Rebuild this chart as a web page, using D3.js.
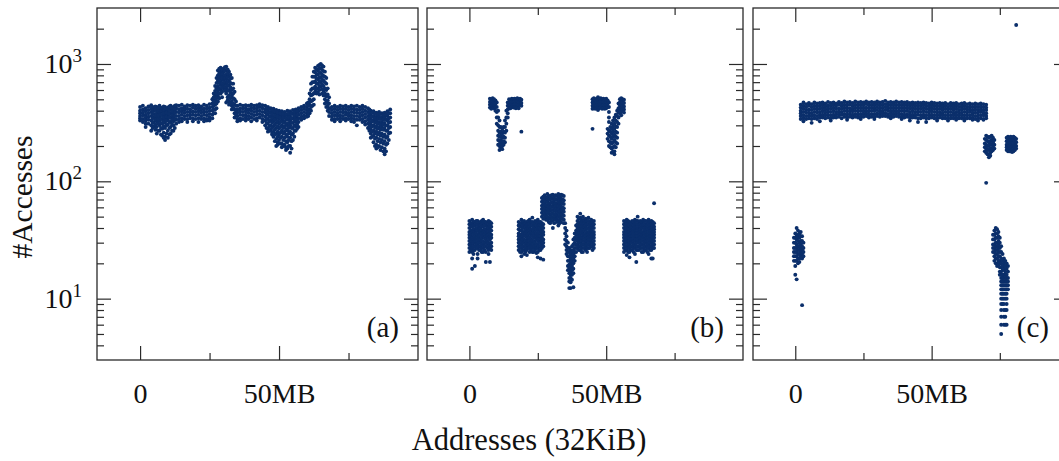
<!DOCTYPE html>
<html><head><meta charset="utf-8">
<script src="https://cdn.jsdelivr.net/npm/d3@7/dist/d3.min.js"></script>
<style>body{margin:0;background:#fff}svg{display:block}text{font-family:"Liberation Serif","DejaVu Serif",serif;fill:#111}</style>
</head><body><svg id="c" width="1059" height="461"></svg>
<script>
// ---- data: [address MB, [#accesses ...]] ----
const panelA = [
[0,[430,400,380,360,345,330]],[1,[440,410,385,365,340,320]],[2,[420,395,370,350,330,310,290]],
[3,[435,405,380,355,335,310]],[4,[445,415,390,360,330,300,270]],[5,[425,400,375,350,320,295]],
[6,[430,405,380,350,325,290,255]],[7,[440,410,385,355,330,300,270]],[8,[420,395,365,340,310,280,245]],
[9,[430,400,370,345,315,285,240,225]],[10,[425,395,365,335,305,270,235]],[11,[440,410,380,350,320,290,255]],
[12,[430,405,375,350,325,300,270]],[13,[445,420,390,360,335,310]],[14,[440,410,385,360,340,320]],
[15,[450,420,395,370,345,325]],[16,[435,410,385,360,340]],[17,[445,415,390,365,340,320]],
[18,[440,410,385,365,345]],[19,[450,425,395,370,345,325]],[20,[440,415,390,365,340]],
[21,[445,420,395,370,345,320]],[22,[435,410,385,360,340]],[23,[450,420,395,370,345,325]],
[24,[440,415,390,365,340,330]],[25,[455,425,400,375,350,330]],[26,[500,460,430,400,370,345]],
[27,[650,590,540,490,450,410,380]],[28,[880,800,720,650,590,530,480]],[29,[930,860,790,720,660,600,560]],
[30,[910,850,790,730,670,620]],[31,[950,880,810,740,680,620,560,470]],[32,[860,790,720,660,600,540,480,450]],
[33,[760,680,600,540,480,440,410]],[34,[580,500,450,410,380,350]],[35,[440,410,385,360,340,325]],
[36,[450,420,395,370,345,330]],[37,[440,415,390,365,340]],[38,[445,420,395,370,350,330]],
[39,[440,410,385,360,340]],[40,[450,425,400,375,350,325]],[41,[440,415,390,365,340]],
[42,[445,420,395,370,345,330]],[43,[455,430,400,375,350]],[44,[445,420,390,365,340,320]],
[45,[440,410,385,355,330,300]],[46,[430,400,370,340,310,280,265]],[47,[420,390,360,330,300,275]],
[48,[415,385,355,325,295,265,240]],[49,[405,375,345,315,285,255,230,200]],[50,[400,370,340,310,280,250,225]],
[51,[395,365,330,300,270,240,210,195]],[52,[390,360,325,295,265,235,205]],[53,[400,365,335,300,270,240,215,190]],
[54,[395,360,330,300,265,235,200,175]],[55,[405,375,345,315,285,255,225]],[56,[410,380,350,320,295,270]],
[57,[420,395,370,345,320,290]],[58,[430,405,380,355,335]],[59,[440,415,390,365,345]],
[60,[460,430,405,380,355]],[61,[560,500,450,410,380]],[62,[780,700,620,550,490,440]],
[63,[930,850,780,710,640,580]],[64,[960,880,810,740,680,620,570]],[65,[1000,920,840,770,700,640]],
[66,[950,870,790,720,650,590,540]],[67,[760,680,600,530,470,430]],[68,[520,460,420,390,360]],
[69,[430,405,380,355,335]],[70,[440,415,390,365,340,325]],[71,[430,405,380,360,340]],
[72,[440,415,390,365,345,325]],[73,[435,410,385,360,340]],[74,[440,415,390,370,345,330]],
[75,[430,405,380,360,340]],[76,[440,415,390,365,345,325]],[77,[435,410,385,360,340,320]],
[78,[440,410,385,360,335,300]],[79,[430,405,380,355,335]],[80,[440,415,390,365,340,320]],
[81,[430,400,375,350,325,305]],[82,[420,390,360,335,310,285]],[83,[400,370,340,310,280,255,235]],
[84,[395,360,330,300,270,245,215]],[85,[385,355,325,295,265,235,205,190]],[86,[390,355,320,290,260,230,200]],
[87,[380,350,320,290,255,225,195]],[88,[385,350,315,285,250,220,190,170]],[89,[395,360,330,300,270,240,210]],
[90,[410,380,350,320,290,260]],
[4.5,[430,400,375,345,315,285]],[5.5,[435,405,360,335,305,275]],[6.5,[420,395,365,340,310,270]],
[7.5,[425,395,370,340,315,285,250]],[8.5,[435,405,380,350,325,295,260,235]],[9.5,[415,385,355,330,300,255]],
[10.5,[435,405,375,350,320,285,250]],[11.5,[425,395,365,335,305,270]],[12.5,[440,410,385,360,335,285]],
[26.5,[560,520,480,440,410,380]],[27.5,[760,690,620,560,510,460,420]],[28.5,[910,830,760,690,620,560,510]],
[29.5,[890,820,755,690,630,580,520]],[30.5,[940,870,800,760,700,640,590]],[31.5,[900,830,770,700,650,590,520,490]],
[32.5,[810,750,690,630,570,510,460]],[33.5,[680,620,560,510,460,425]],[34.5,[480,440,400,370]],
[45.5,[425,395,370,340,315,285]],[46.5,[415,385,355,325,295,270]],[47.5,[405,375,345,315,285,260,250]],
[48.5,[395,365,335,305,275,250,220]],[49.5,[385,355,325,295,265,240,215,205]],[50.5,[380,350,320,290,260,235,210]],
[51.5,[375,345,315,285,255,225,200]],[52.5,[375,345,310,280,250,220,195,185]],[53.5,[380,350,315,285,255,225,200]],
[54.5,[380,345,315,285,250,220,190]],[55.5,[390,360,330,300,270,240]],[56.5,[395,365,335,305,280]],
[60.5,[470,440,410,385,360]],[61.5,[680,600,540,480,430,400]],[62.5,[860,780,700,620,560,500,450]],
[63.5,[900,820,750,680,610,560]],[64.5,[980,910,840,770,710,650,600,550]],[65.5,[970,890,810,740,670,610,560]],
[66.5,[860,780,700,620,560,500,460]],[67.5,[620,550,490,440,400]],
[82.5,[410,380,350,320,295,270]],[83.5,[385,355,325,295,265,240]],[84.5,[380,345,315,285,255,230,200]],
[85.5,[370,340,310,280,250,220,195]],[86.5,[375,340,305,275,245,215,185]],[87.5,[365,335,305,275,240,210,180]],
[88.5,[370,335,300,270,235,205,180]],[89.5,[380,345,315,285,255,225]]
];
const panelB = [
// upper V clusters
[7.5,[505,475,450,425]],[8,[495,465,440,415]],[8.5,[510,480,455,430]],[9,[500,470,445,420]],
[9.5,[490,460,430,400]],[10,[470,430,390,350,310]],[10.5,[400,350,300,270,245,225,205]],
[11,[330,290,260,240,220,200,185]],[11.5,[290,265,245,225,210,195]],[12,[280,255,235,215,200,188]],
[12.5,[290,265,240,220,205]],[13,[330,290,260,235,215]],[13.5,[400,350,310,270]],
[14,[470,440,410,380,350]],[14.5,[500,470,445,420]],[15,[495,470,445,420]],[15.5,[505,480,455,430]],
[16,[500,470,445,425]],[16.5,[505,475,450,425]],[17,[500,470,445,420]],[17.5,[510,480,455,430]],
[18,[500,470,445,420]],[18.5,[505,475,450]],[19,[495,465,440,265]],
[45,[500,470,440,415,280]],[45.5,[510,480,450,420]],[46,[495,465,440,415]],[46.5,[505,475,445,420]],
[47,[520,490,460,430,405]],[47.5,[500,470,445,420]],[48,[510,480,450,425]],[48.5,[500,470,440,415]],
[49,[505,475,445,420]],[49.5,[495,465,440,415]],[50,[505,475,445,420]],[50.5,[490,460,430,280,255,230]],
[51,[470,430,390,350,320,270,245,220,200]],[51.5,[290,265,240,215,195]],[52,[310,280,255,230,210,190,175]],
[52.5,[330,295,265,240,215,195,180]],[53,[350,310,280,250,225,200,180,170]],[53.5,[370,330,295,265,240,215,195]],
[54,[400,360,320,290,260,235,210]],[54.5,[460,420,385,350,310]],[55,[500,470,440,410,380]],
[55.5,[510,480,450,420,390,365]],[56,[500,470,440,410]],[56.5,[495,465,435,410,385]],
// lower clusters
[0,[46,43,40,37,35,33,31,29,27,25]],[0.5,[44,41,38,36,34,32,30,28,26]],
[1,[47,44,41,38,36,33,31,29,27,25,22,18]],[1.5,[45,42,39,37,35,32,30,28,26,24]],
[2,[45,42,39,37,34,32,30,28,26,19]],[2.5,[46,43,40,38,36,33,31,29,27]],
[3,[46,43,40,38,35,33,31,29,27,24,22]],[3.5,[44,41,39,36,34,32,30,28,26]],
[4,[45,42,40,37,35,32,30,28,26]],[4.5,[46,43,41,38,36,33,31,29,27,25]],
[5,[47,44,41,38,36,34,31,29,27,25]],[5.5,[45,42,39,37,35,33,30,28,26]],
[6,[45,42,39,37,34,32,30,28,25,20.5]],[6.5,[44,41,38,36,34,31,29,27]],
[7,[46,43,40,37,35,33,30,28,26,24]],[7.5,[45,42,39,36,34,32,29,27,20.5]],
[8,[44,41,38,35,33,30,28,26]],
[18,[45,42,39,36,34,32,30,28,26]],[18.5,[44,41,38,35,33,31,29,27,25]],
[19,[47,44,41,38,35,33,31,29,27,25,23]],[19.5,[45,42,40,37,34,32,30,28,26]],
[20,[46,43,40,37,35,32,30,28,26,24]],[20.5,[44,41,38,36,34,31,29,27,25]],
[21,[45,42,39,37,34,32,30,28,26,23.5]],[21.5,[46,43,40,38,35,33,31,29,27]],
[22,[47,44,41,38,36,33,31,29,27,25]],[22.5,[45,42,39,37,35,32,30,28,26]],
[23,[49,45,42,39,36,34,31,29,27,25]],[23.5,[44,41,38,36,33,31,29,27,25]],
[24,[46,43,40,37,35,33,30,28,26]],[24.5,[45,42,39,36,34,32,29,27,24.5]],
[25,[47,44,41,38,35,33,31,29,27,25,22.5]],[25.5,[45,42,40,37,34,32,30,28,26]],
[26,[45,42,39,36,34,32,30,28,26,22]],[26.5,[44,41,38,35,33,31,29,27]],
[27,[43,40,37,35,32,30,28,21.5]],
[26.5,[72,67,62,58,54,50]],[27,[74,69,64,60,56,52,48]],[27.5,[76,70,65,61,57,53,49]],
[28,[73,68,63,59,55,51,47]],[28.5,[78,72,67,62,58,54,50,47]],[29,[75,70,65,61,57,53,49,45]],
[29.5,[75,70,65,60,56,52,48,44]],[30,[76,71,66,61,57,53,50,46]],[30.5,[77,71,66,62,57,53,49,46,40]],
[31,[74,69,64,60,56,52,48,44]],[31.5,[76,70,65,61,57,53,50,47]],[32,[75,70,65,60,56,52,48,45]],
[32.5,[78,72,67,62,58,54,50,46,42]],[33,[74,69,64,59,55,51,47,44]],[33.5,[77,71,66,61,57,53,49,45]],
[34,[76,70,65,60,56,52,48]],[34.5,[75,69,64,59,55,51,47,44]],
[35,[44,40,36,32,29]],[35.5,[38,34,31,28,26,24]],[36,[30,27,25,23,21,19,17.5]],
[36.5,[27,25,23,21,19.5,18,16.5,15,14,12.3]],[37,[26,24,22,20,18.5,17,16,15,13.8,12.3]],
[37.5,[28,25,23,21,19,17.5,16,14.5]],[38,[32,29,26,24,22,20,18,16.5,12.5]],
[38.5,[36,33,30,27,25,23,21]],[39,[42,38,35,32,29,27,25]],
[39.5,[50,46,43,40,37,35,33,31,29,27]],[40,[48,44,41,38,36,34,32,30,28,26]],
[40.5,[53,49,45,42,39,36,34,32,30,28,26]],[41,[47,44,41,38,36,33,31,29,27,25]],
[41.5,[50,46,43,40,37,35,33,31,29,27,25]],[42,[47,44,41,38,35,33,31,29,27]],
[42.5,[48,45,42,39,36,34,32,30,28,26]],[43,[46,43,40,37,35,33,31,29,27,25]],
[43.5,[49,46,43,40,37,35,33,31,29,27]],[44,[45,42,39,37,35,33,31,29,27]],
[44.5,[47,44,41,38,36,34,32,30,28]],[45,[45,42,40,37,35,33,30,28,26]],
[45.5,[46,43,40,37,35,33,31,29,27]],
[56.5,[46,43,40,37,35,33,31,29,27,25]],[57,[45,42,39,36,34,32,30,28,26]],
[57.5,[47,44,41,38,36,34,32,30,28,26,23.5]],[58,[46,43,40,37,35,33,31,29,27,25]],
[58.5,[45,42,39,37,35,33,31,29,27,25,22.5]],[59,[44,41,38,36,34,32,30,28,26]],
[59.5,[46,43,40,38,36,34,32,30,28,26]],[60,[45,42,39,37,35,33,31,29,27,25]],
[60.5,[47,44,41,39,37,35,33,31,29,27,24]],[61,[46,43,40,38,36,34,32,30,28,26,20.5]],
[61.5,[50,46,43,40,38,36,34,32,30,28,26]],[62,[45,42,40,38,36,34,32,30,28,26]],
[62.5,[46,43,41,39,37,35,33,31,29,27]],[63,[45,42,40,37,35,33,31,29,27,25]],
[63.5,[47,44,42,40,37,35,33,31,29,27,25]],[64,[46,43,40,38,36,34,32,30,28,26]],
[64.5,[46,43,41,38,36,34,32,30,28,26]],[65,[45,42,40,37,35,33,31,29,27,25]],
[65.5,[47,44,41,39,37,35,33,31,29,27,24]],[66,[45,42,40,38,36,34,32,30,28,26]],
[66.5,[46,43,40,38,36,34,32,30,28,26,22]],[67,[45,42,39,37,35,33,31,29,27,22]],
[67.5,[44,41,39,37,35,33,31,29,27,65]]
];
const panelC = [
[-0.5,[33,30,27,25,23,21]],[0,[36,33,30,27,25,23,21,19,16]],[0.5,[40,35,32,29,27,25,23,21,14.6]],
[1,[38,34,31,28,26,24,22,20]],[1.5,[36,33,30,28,26,24,22,20.5]],[2,[37,34,31,29,27,25,23]],
[2.5,[34,31,28,26,24,22,8.8]],[3,[30,27,25,23]],
[2,[450,425,400,380,360,340]],[3,[470,440,415,390,365,345,325]],[4,[455,430,405,385,360,340]],
[5,[465,440,410,385,365,345]],[6,[455,430,405,380,360,340,315]],[7,[470,440,415,390,365,345]],
[8,[460,435,410,385,360,340]],[9,[465,440,415,390,370,350,325]],[10,[470,445,420,395,370,350]],
[11,[460,435,410,385,365,345]],[12,[475,445,420,395,370,350]],[13,[465,440,415,390,365,345,330]],
[14,[470,445,420,395,370,350]],[15,[460,440,415,390,370,350]],[16,[475,450,420,395,375,355]],
[17,[465,440,415,390,370,345]],[18,[480,450,425,400,375,355]],[19,[470,445,420,395,370,350,335]],
[20,[475,450,420,395,375,355]],[21,[465,440,415,395,370,350]],[22,[480,450,425,400,375,355]],
[23,[470,445,420,395,370,350]],[24,[475,450,425,400,375,355,340]],[25,[470,445,420,395,375,355]],
[26,[480,455,425,400,380,360]],[27,[470,445,420,395,370,350]],[28,[475,450,425,400,375,355]],
[29,[470,445,420,400,375,355,340]],[30,[480,455,430,405,380,360]],[31,[470,445,420,395,375,355]],
[32,[475,450,425,400,380,360]],[33,[485,455,430,405,380,360]],[34,[470,445,420,400,375,355]],
[35,[475,450,425,400,380,360,345]],[36,[470,445,420,395,375,355]],[37,[480,450,425,400,380,360]],
[38,[470,445,420,395,375,355]],[39,[475,450,425,400,375,355,340]],[40,[470,445,420,395,370,350]],
[41,[475,450,425,400,375,355]],[42,[465,440,415,390,370,350,330]],[43,[470,445,420,395,370,350]],
[44,[465,440,415,390,370,350]],[45,[470,445,420,395,370,345,320]],[46,[465,440,415,390,365,345]],
[47,[470,445,420,395,370,350]],[48,[465,440,415,390,365,345,320]],[49,[460,435,410,385,365,345]],
[50,[470,445,420,395,370,350]],[51,[465,440,415,390,365,345]],[52,[460,435,410,385,365,345,330]],
[53,[465,440,415,390,370,350]],[54,[460,435,410,385,365,345]],[55,[465,440,415,390,365,345]],
[56,[455,430,410,385,365,345,330]],[57,[465,440,415,390,365,345]],[58,[460,435,410,385,365,345]],
[59,[465,440,415,390,370,350,335]],[60,[455,430,405,385,365,345]],[61,[460,435,410,385,365,345]],
[62,[465,440,415,390,365,345,330]],[63,[455,430,410,385,365,345]],[64,[460,435,410,390,365,345]],
[65,[455,430,405,385,365,345,335]],[66,[460,435,410,385,360,340]],[67,[455,430,405,385,365,345,330]],
[68,[460,435,410,390,365,345]],[69,[455,430,405,385,365,340,335]],[70,[450,425,405,380,360,345]],
[69.5,[230,210,195,180]],[70,[245,225,205,190,175,97]],[70.5,[240,220,200,185,170]],
[71,[235,215,200,185,170,160]],[71.5,[240,220,205,190,175,165]],[72,[245,225,205,190,180]],
[72.5,[235,215,200,185]],[73,[225,205,190]],
[77.5,[235,220,205,195,185]],[78,[240,225,210,200,190,180]],[78.5,[235,220,210,200,190,180]],
[79,[240,225,210,200,190,180]],[79.5,[235,220,210,195,185,178]],[80,[240,225,210,200,190,180]],
[80.5,[235,220,205,195,185]],[81,[230,215,200,190,2150]],
[72.5,[35,32,29,27,25]],[73,[38,35,32,29,27,25,23,21]],[73.5,[40,36,33,30,28,26,24,22,20]],
[74,[39,36,33,30,28,26,24,22,20,19]],[74.5,[37,34,31,29,27,25,23,21,19.5]],
[75,[33,30,27,25,23,21,20,18.5,17,16]],
[75.5,[28,25,22,20,18.5,17,16,15,14,13,12,11,10,9,8,7,6,5]],
[76,[24,21,19,17.5,16,15,14,13,12,11,10,9]],
[76.5,[22,20,18,16,15,14,13,12,11,10,9,8,7,6]],
[77,[21,19,17,16,15,14,13,12,11,10,8,7,6]],
[77.5,[20,18,16,15,14,13,12,11,10,9,8,6]],
[78,[19,17,15,14,13,12]]
];
const panelLabels = ["(a)","(b)","(c)"];
const xMajorTicks = [0, 50];
const xTickLabels = ["0", "50MB"];
const xMinorTicks = [25, 75];
const yMajorTicks = [10, 100, 1000];
const yTickExponents = ["1", "2", "3"];
const yMinorTicks = [4,5,6,7,8,9,20,30,40,50,60,70,80,90,200,300,400,500,600,700,800,900,2000];
const yTitle = "#Accesses";
const xTitle = "Addresses (32KiB)";

// ---- drawing ----
const svg = d3.select("#c");
const plotTop = 8, plotBottom = 360;
const y = d3.scaleLog().domain([3, 3000]).range([plotBottom, plotTop]);
const layout = [[97, 418], [427, 743], [753, 1068]];
const datasets = [panelA, panelB, panelC];
const dotColor = "#0b2f6b", lineColor = "#2a2a2a";

layout.forEach(([x0, x1], i) => {
  const x = d3.scaleLinear().domain([-15.5, 100]).range([x0, x1]);
  const g = svg.append("g");
  const pts = datasets[i].flatMap(([a, vs]) => vs.map(v => [a, v]));
  const cid = "clip" + i;
  svg.append("clipPath").attr("id", cid).append("rect")
    .attr("x", x0).attr("y", plotTop).attr("width", x1 - x0).attr("height", plotBottom - plotTop);
  g.append("g").attr("clip-path", `url(#${cid})`).selectAll("circle").data(pts).join("circle")
    .attr("cx", d => x(d[0])).attr("cy", d => y(d[1])).attr("r", 1.95).attr("fill", dotColor);

  const ax = (axis, tx, ty) => {
    const s = g.append("g").attr("transform", `translate(${tx},${ty})`).call(axis);
    s.select(".domain").remove();
    s.selectAll("line").attr("stroke", lineColor).attr("stroke-width", 1.2);
    return s;
  };
  const xb = ax(d3.axisBottom(x).tickValues(xMajorTicks).tickSizeInner(-14).tickSizeOuter(0).tickPadding(23)
      .tickFormat((d, k) => xTickLabels[k]), 0, plotBottom);
  xb.selectAll("text").style("font-family", '"Liberation Serif",serif').style("font-size", "28px").attr("fill", "#111");
  ax(d3.axisBottom(x).tickValues(xMinorTicks).tickSizeInner(-7).tickSizeOuter(0).tickFormat(""), 0, plotBottom);
  ax(d3.axisTop(x).tickValues(xMajorTicks).tickSizeInner(-14).tickSizeOuter(0).tickFormat(""), 0, plotTop);
  ax(d3.axisTop(x).tickValues(xMinorTicks).tickSizeInner(-7).tickSizeOuter(0).tickFormat(""), 0, plotTop);
  ax(d3.axisLeft(y).tickValues(yMajorTicks).tickSizeInner(-14).tickSizeOuter(0).tickFormat(""), x0, 0);
  ax(d3.axisLeft(y).tickValues(yMinorTicks).tickSizeInner(-7).tickSizeOuter(0).tickFormat(""), x0, 0);
  ax(d3.axisRight(y).tickValues(yMajorTicks).tickSizeInner(-14).tickSizeOuter(0).tickFormat(""), x1, 0);
  ax(d3.axisRight(y).tickValues(yMinorTicks).tickSizeInner(-7).tickSizeOuter(0).tickFormat(""), x1, 0);
  g.append("rect").attr("x", x0).attr("y", plotTop).attr("width", x1 - x0).attr("height", plotBottom - plotTop)
    .attr("fill", "none").attr("stroke", lineColor).attr("stroke-width", 1.3);
  g.append("text").attr("x", x1 - 19).attr("y", 337).attr("text-anchor", "end")
    .style("font-size", "29px").text(panelLabels[i]);
  if (i === 0) {
    yMajorTicks.forEach((v, k) => {
      const t = g.append("text").attr("x", 82).attr("y", y(v) + 9).attr("text-anchor", "end").style("font-size", "28px");
      t.append("tspan").text("10");
      t.append("tspan").attr("dy", -11).style("font-size", "19px").text(yTickExponents[k]);
    });
  }
});

svg.append("text").attr("transform", "translate(32,197) rotate(-90)").attr("text-anchor", "middle")
  .style("font-size", "29.5px").text(yTitle);
svg.append("text").attr("x", 529).attr("y", 450).attr("text-anchor", "middle")
  .style("font-size", "30.5px").text(xTitle);
</script></body></html>
